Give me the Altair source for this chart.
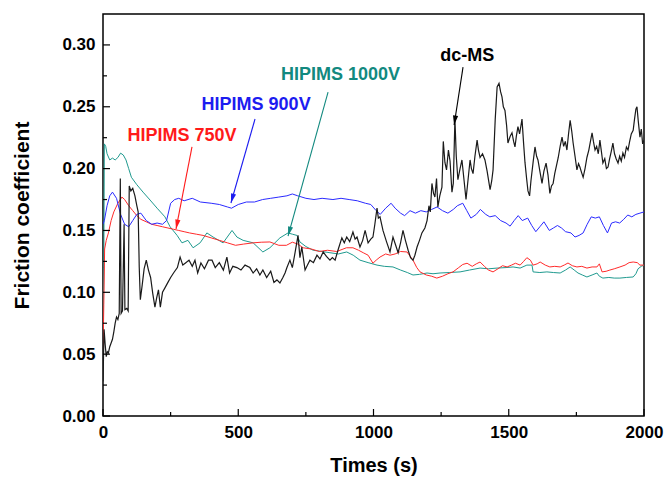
import math
import altair as alt
import pandas as pd

# ---------------- data ----------------
t_900 = [0, 5, 15, 25, 35, 50, 65, 80, 95, 110, 125, 140, 160, 180, 200, 220, 235, 250, 265, 280,
         300, 330, 360, 400, 430, 460, 475, 500, 530, 560, 590, 620, 650, 680, 700, 720, 750, 780,
         810, 850, 880, 910, 940, 970, 990, 1010, 1025, 1045, 1065, 1080, 1100, 1115, 1135, 1155,
         1175, 1195, 1215, 1235, 1255, 1275, 1295, 1310, 1330, 1345, 1360, 1380, 1395, 1415, 1430,
         1450, 1470, 1490, 1505, 1520, 1535, 1550, 1570, 1585, 1600, 1615, 1630, 1650, 1665, 1680,
         1695, 1710, 1730, 1745, 1760, 1775, 1790, 1805, 1820, 1835, 1850, 1865, 1880, 1895, 1910,
         1925, 1940, 1955, 1970, 1985, 2000]
v_900 = [0.155, 0.158, 0.170, 0.178, 0.181, 0.176, 0.163, 0.155, 0.153, 0.158, 0.163, 0.164, 0.158,
         0.155, 0.156, 0.155, 0.158, 0.172, 0.175, 0.176, 0.174, 0.176, 0.173, 0.172, 0.171, 0.169,
         0.168, 0.171, 0.173, 0.173, 0.175, 0.176, 0.177, 0.178, 0.1795, 0.178, 0.176, 0.175, 0.176,
         0.175, 0.176, 0.175, 0.174, 0.172, 0.171, 0.166, 0.163, 0.168, 0.172, 0.168, 0.164, 0.162,
         0.166, 0.164, 0.166, 0.165, 0.167, 0.169, 0.166, 0.164, 0.167, 0.170, 0.172, 0.166, 0.160,
         0.163, 0.167, 0.163, 0.161, 0.162, 0.158, 0.156, 0.1535, 0.158, 0.162, 0.158, 0.160, 0.154,
         0.149, 0.153, 0.157, 0.150, 0.152, 0.154, 0.152, 0.149, 0.148, 0.1447, 0.146, 0.148, 0.155,
         0.161, 0.160, 0.161, 0.154, 0.148, 0.156, 0.157, 0.156, 0.159, 0.1625, 0.161, 0.163, 0.164,
         0.165]

t_750 = [0, 3, 6, 12, 20, 30, 40, 55, 70, 80, 95, 110, 125, 140, 160, 180, 200, 220, 240, 260, 280,
         300, 320, 345, 370, 400, 430, 460, 490, 520, 555, 585, 617, 650, 678, 700, 720, 740, 770, 800,
         830, 864, 900, 924, 945, 962, 980, 998, 1010, 1024, 1045, 1061, 1080, 1100, 1124, 1146, 1160,
         1172, 1195, 1215, 1234, 1255, 1275, 1294, 1315, 1330, 1346, 1365, 1380, 1394, 1410, 1425,
         1442, 1460, 1477, 1494, 1510, 1525, 1542, 1555, 1567, 1580, 1590, 1605, 1616, 1635, 1652,
         1670, 1690, 1705, 1719, 1735, 1752, 1770, 1789, 1808, 1826, 1835, 1845, 1860, 1874, 1890,
         1911, 1930, 1945, 1960, 1975, 1985, 2000]
v_750 = [0.050, 0.090, 0.135, 0.142, 0.148, 0.158, 0.165, 0.172, 0.177, 0.175, 0.170, 0.166, 0.162,
         0.159, 0.157, 0.155, 0.154, 0.153, 0.152, 0.151, 0.150, 0.149, 0.148, 0.147, 0.146, 0.144,
         0.142, 0.140, 0.138, 0.139, 0.140, 0.1405, 0.1407, 0.138, 0.138, 0.1405, 0.139, 0.136, 0.135,
         0.133, 0.134, 0.133, 0.136, 0.136, 0.134, 0.132, 0.130, 0.1235, 0.126, 0.1285, 0.131, 0.130,
         0.131, 0.133, 0.1326, 0.126, 0.120, 0.1165, 0.114, 0.113, 0.1115, 0.113, 0.115, 0.1165, 0.120,
         0.1225, 0.1235, 0.121, 0.123, 0.1245, 0.121, 0.118, 0.1165, 0.119, 0.1215, 0.1205, 0.122,
         0.1235, 0.122, 0.125, 0.128, 0.126, 0.122, 0.123, 0.1245, 0.122, 0.1205, 0.121, 0.1205, 0.122,
         0.1237, 0.1215, 0.1205, 0.121, 0.1196, 0.1205, 0.1205, 0.123, 0.1165, 0.117, 0.118, 0.119,
         0.1205, 0.122, 0.124, 0.1245, 0.124, 0.122, 0.122]

t_1000 = [0, 3, 5, 10, 15, 25, 35, 45, 55, 65, 75, 85, 95, 105, 125, 148, 174, 200, 229, 248, 274,
          292, 314, 333, 359, 384, 407, 444, 477, 495, 518, 555, 591, 617, 654, 684, 700, 717, 728, 750,
          777, 810, 839, 870, 901, 925, 950, 980, 1013, 1040, 1072, 1100, 1125, 1146, 1170, 1198, 1220,
          1246, 1280, 1320, 1355, 1394, 1425, 1457, 1490, 1516, 1542, 1567, 1586, 1590, 1615, 1641,
          1665, 1690, 1710, 1727, 1742, 1756, 1772, 1789, 1808, 1826, 1835, 1848, 1870, 1890, 1911,
          1935, 1960, 1970, 1978, 1990, 2000]
v_1000 = [0.050, 0.120, 0.220, 0.218, 0.212, 0.207, 0.2085, 0.207, 0.209, 0.2125, 0.211, 0.207, 0.200,
          0.193, 0.187, 0.181, 0.1746, 0.168, 0.161, 0.153, 0.146, 0.140, 0.142, 0.136, 0.140, 0.148,
          0.1447, 0.140, 0.150, 0.1447, 0.142, 0.140, 0.1326, 0.136, 0.144, 0.148, 0.147, 0.146, 0.1407,
          0.137, 0.134, 0.133, 0.132, 0.131, 0.1326, 0.130, 0.126, 0.124, 0.122, 0.121, 0.1205, 0.118,
          0.116, 0.114, 0.1145, 0.1156, 0.115, 0.1156, 0.116, 0.1165, 0.118, 0.1196, 0.119, 0.1196,
          0.120, 0.1205, 0.1196, 0.122, 0.122, 0.1165, 0.116, 0.1165, 0.116, 0.1156, 0.118, 0.1205,
          0.118, 0.1156, 0.114, 0.1124, 0.114, 0.1156, 0.113, 0.1115, 0.112, 0.1115, 0.1115, 0.112,
          0.1124, 0.115, 0.119, 0.121, 0.122]

t_dc = [0, 4, 8, 12, 16, 20, 25, 30, 35, 40, 45, 50, 55, 60, 64, 67, 72, 78, 81, 88, 93, 97, 103, 110,
        118, 125, 130, 134, 138, 145, 152, 160, 168, 176, 184, 192, 198, 205, 212, 220, 230, 240, 250,
        262, 275, 285, 295, 305, 318, 330, 340, 350, 362, 375, 390, 403, 415, 430, 445, 458, 468, 480,
        495, 510, 525, 543, 555, 568, 580, 591, 605, 620, 632, 643, 654, 665, 673, 680, 691, 700, 710,
        721, 728, 735, 747, 756, 765, 778, 791, 802, 814, 826, 839, 848, 858, 870, 883, 892, 901, 912,
        924, 932, 939, 950, 960, 969, 980, 990, 998, 1005, 1013, 1018, 1024, 1035, 1048, 1061, 1072,
        1082, 1091, 1100, 1109, 1118, 1128, 1137, 1146, 1153, 1161, 1170, 1179, 1190, 1198, 1205, 1210,
        1216, 1222, 1227, 1233, 1238, 1245, 1253, 1258, 1264, 1270, 1277, 1283, 1290, 1295, 1301, 1306,
        1312, 1320, 1327, 1335, 1342, 1350, 1357, 1362, 1368, 1375, 1383, 1388, 1394, 1403, 1412, 1420,
        1431, 1437, 1442, 1450, 1457, 1464, 1470, 1475, 1480, 1486, 1492, 1497, 1505, 1512, 1518, 1523,
        1528, 1534, 1540, 1549, 1555, 1560, 1566, 1571, 1577, 1582, 1590, 1597, 1603, 1608, 1615, 1623,
        1630, 1638, 1645, 1652, 1658, 1664, 1670, 1677, 1683, 1690, 1697, 1703, 1709, 1715, 1721, 1727,
        1733, 1738, 1745, 1752, 1758, 1763, 1769, 1775, 1782, 1789, 1796, 1802, 1808, 1813, 1819, 1825,
        1831, 1837, 1843, 1848, 1855, 1861, 1867, 1873, 1879, 1885, 1891, 1897, 1904, 1910, 1916, 1922,
        1928, 1935, 1941, 1947, 1953, 1960, 1965, 1970, 1974, 1979, 1985, 1990, 1995, 2000]
v_dc = [0.028, 0.070, 0.058, 0.048, 0.052, 0.051, 0.056, 0.059, 0.062, 0.068, 0.075, 0.080, 0.078,
        0.083, 0.192, 0.083, 0.085, 0.155, 0.086, 0.087, 0.085, 0.186, 0.182, 0.184, 0.178, 0.170, 0.165,
        0.120, 0.094, 0.106, 0.119, 0.126, 0.118, 0.112, 0.099, 0.088, 0.095, 0.102, 0.088, 0.100, 0.104,
        0.108, 0.112, 0.116, 0.120, 0.1285, 0.122, 0.1237, 0.126, 0.121, 0.126, 0.1156, 0.1237, 0.119,
        0.126, 0.126, 0.120, 0.124, 0.118, 0.1285, 0.1156, 0.121, 0.120, 0.118, 0.122, 0.120, 0.1156,
        0.119, 0.114, 0.118, 0.112, 0.117, 0.108, 0.110, 0.1075, 0.112, 0.1156, 0.120, 0.126, 0.120,
        0.132, 0.146, 0.128, 0.1366, 0.118, 0.122, 0.126, 0.124, 0.130, 0.127, 0.1326, 0.129, 0.126,
        0.128, 0.126, 0.135, 0.144, 0.140, 0.1447, 0.141, 0.1487, 0.143, 0.1447, 0.1366, 0.142, 0.150,
        0.140, 0.143, 0.1447, 0.155, 0.168, 0.160, 0.161, 0.150, 0.141, 0.1326, 0.1447, 0.138, 0.132,
        0.140, 0.150, 0.142, 0.134, 0.128, 0.126, 0.130, 0.1366, 0.142, 0.148, 0.152, 0.158, 0.170,
        0.165, 0.188, 0.180, 0.177, 0.192, 0.169, 0.178, 0.185, 0.222, 0.205, 0.199, 0.215, 0.206, 0.181,
        0.188, 0.240, 0.210, 0.191, 0.200, 0.207, 0.190, 0.175, 0.192, 0.207, 0.200, 0.196, 0.210, 0.223,
        0.215, 0.209, 0.212, 0.207, 0.198, 0.183, 0.190, 0.199, 0.240, 0.266, 0.269, 0.262, 0.258, 0.250,
        0.247, 0.235, 0.2207, 0.226, 0.229, 0.222, 0.2175, 0.226, 0.234, 0.228, 0.240, 0.220, 0.205,
        0.192, 0.182, 0.178, 0.190, 0.205, 0.2175, 0.210, 0.207, 0.198, 0.188, 0.198, 0.2045, 0.195,
        0.180, 0.186, 0.188, 0.196, 0.203, 0.209, 0.218, 0.2255, 0.218, 0.222, 0.215, 0.228, 0.239,
        0.230, 0.2207, 0.210, 0.199, 0.204, 0.2013, 0.197, 0.193, 0.200, 0.209, 0.215, 0.222, 0.229,
        0.222, 0.215, 0.218, 0.212, 0.223, 0.213, 0.2045, 0.208, 0.200, 0.2013, 0.208, 0.214, 0.2207,
        0.212, 0.208, 0.2045, 0.210, 0.206, 0.2126, 0.209, 0.2175, 0.215, 0.222, 0.228, 0.231, 0.240,
        0.248, 0.250, 0.238, 0.2255, 0.232, 0.220, 0.223]

x_major = [0, 500, 1000, 1500, 2000]
x_minor = [250, 750, 1250, 1750]
y_major = [0.00, 0.05, 0.10, 0.15, 0.20, 0.25, 0.30]
y_minor = [0.025, 0.075, 0.125, 0.175, 0.225, 0.275]

ann_text = ["HIPIMS 750V", "HIPIMS 900V", "HIPIMS 1000V", "dc-MS"]
ann_t = [292, 566, 878, 1347]
ann_v = [0.2264, 0.2514, 0.2757, 0.291]
arrow_t0 = [329, 562, 832, 1331]
arrow_v0 = [0.2175, 0.2401, 0.2619, 0.2821]
arrow_t1 = [270, 473, 684, 1298]
arrow_v1 = [0.1512, 0.1722, 0.1455, 0.2352]
ann_color = ["#ff1a1a", "#1c1cf0", "#12897f", "#000000"]

# ---------------- chart ----------------
W, H = 541, 402
X_MAX, Y_MAX = 2000, 0.325
FONT = "Liberation Sans"

xs = alt.Scale(domain=[0, X_MAX], nice=False, zero=False)
ys = alt.Scale(domain=[0, Y_MAX], nice=False, zero=False)

x_axis = alt.Axis(values=x_major, format="d", title="Times (s)", grid=False, ticks=False,
                  domain=False, labelFont=FONT, labelFontSize=17, labelFontWeight="bold",
                  labelColor="black", labelPadding=8, labelFlush=False, titleFont=FONT,
                  titleFontSize=20, titleFontWeight="bold", titleColor="black",
                  titleX=W / 2, titleY=49, titleBaseline="middle", titleAlign="center")
y_axis = alt.Axis(values=y_major, format=".2f", title="Friction coefficient", grid=False,
                  ticks=False, domain=False, labelFont=FONT, labelFontSize=17,
                  labelFontWeight="bold", labelColor="black", labelPadding=8, labelFlush=False,
                  titleFont=FONT, titleFontSize=21, titleFontWeight="bold", titleColor="black",
                  titleX=-81, titleY=H / 2, titleAngle=270, titleBaseline="middle",
                  titleAlign="center")


def series(ts, vs, color, width):
    df = pd.DataFrame({"t": ts, "v": vs})
    return alt.Chart(df).mark_line(color=color, strokeWidth=width, clip=True).encode(
        x=alt.X("t:Q", scale=xs, axis=x_axis),
        y=alt.Y("v:Q", scale=ys, axis=y_axis),
        order="t:Q",
    )


lines = [
    series(t_1000, v_1000, "#1f9a8f", 1.0),
    series(t_750, v_750, "#ff2a2a", 1.0),
    series(t_900, v_900, "#2a2aff", 1.0),
    series(t_dc, v_dc, "#1a1a1a", 1.2),
]

# inward ticks
ytick_major = alt.Chart(pd.DataFrame({"v": y_major})).mark_rule(color="black", strokeWidth=1.2).encode(
    y=alt.Y("v:Q", scale=ys, axis=y_axis), x=alt.value(0), x2=alt.value(7))
ytick_minor = alt.Chart(pd.DataFrame({"v": y_minor})).mark_rule(color="black", strokeWidth=1.2).encode(
    y=alt.Y("v:Q", scale=ys, axis=y_axis), x=alt.value(0), x2=alt.value(4))
xtick_major = alt.Chart(pd.DataFrame({"t": x_major})).mark_rule(color="black", strokeWidth=1.2).encode(
    x=alt.X("t:Q", scale=xs, axis=x_axis), y=alt.value(H), y2=alt.value(H - 7))
xtick_minor = alt.Chart(pd.DataFrame({"t": x_minor})).mark_rule(color="black", strokeWidth=1.2).encode(
    x=alt.X("t:Q", scale=xs, axis=x_axis), y=alt.value(H), y2=alt.value(H - 4))

# annotations
angles = []
for a, b, c, d in zip(arrow_t0, arrow_v0, arrow_t1, arrow_v1):
    dx = (c - a) * W / X_MAX
    dy = -(d - b) * H / Y_MAX
    angles.append(math.degrees(math.atan2(dx, -dy)) % 360)

ann_df = pd.DataFrame({"label": ann_text, "t": ann_t, "v": ann_v, "t0": arrow_t0, "v0": arrow_v0,
                       "t1": arrow_t1, "v1": arrow_v1, "color": ann_color, "angle": angles})

arrows = alt.Chart(ann_df).mark_rule(strokeWidth=1.1).encode(
    x=alt.X("t0:Q", scale=xs, axis=x_axis), y=alt.Y("v0:Q", scale=ys, axis=y_axis),
    x2="t1:Q", y2="v1:Q", color=alt.Color("color:N", scale=None))
heads = alt.Chart(ann_df).mark_point(shape="M0,0L-0.55,2L0.55,2Z", filled=True, size=90,
                                     opacity=1, strokeWidth=0).encode(
    x=alt.X("t1:Q", scale=xs, axis=x_axis), y=alt.Y("v1:Q", scale=ys, axis=y_axis),
    angle=alt.Angle("angle:Q", scale=None), color=alt.Color("color:N", scale=None))
labels = alt.Chart(ann_df).mark_text(font=FONT, fontSize=18, fontWeight="bold", align="center",
                                     baseline="middle").encode(
    x=alt.X("t:Q", scale=xs, axis=x_axis), y=alt.Y("v:Q", scale=ys, axis=y_axis),
    text="label:N", color=alt.Color("color:N", scale=None))

chart = alt.layer(*lines, ytick_major, ytick_minor, xtick_major, xtick_minor, arrows, heads,
                  labels).properties(
    width=W, height=H, autosize="none",
    padding={"left": 103, "top": 14, "right": 22, "bottom": 61},
    background="white",
).configure_view(stroke="black", strokeWidth=1.5)

chart.save("out.html", embed_options={"renderer": "svg", "actions": False})
